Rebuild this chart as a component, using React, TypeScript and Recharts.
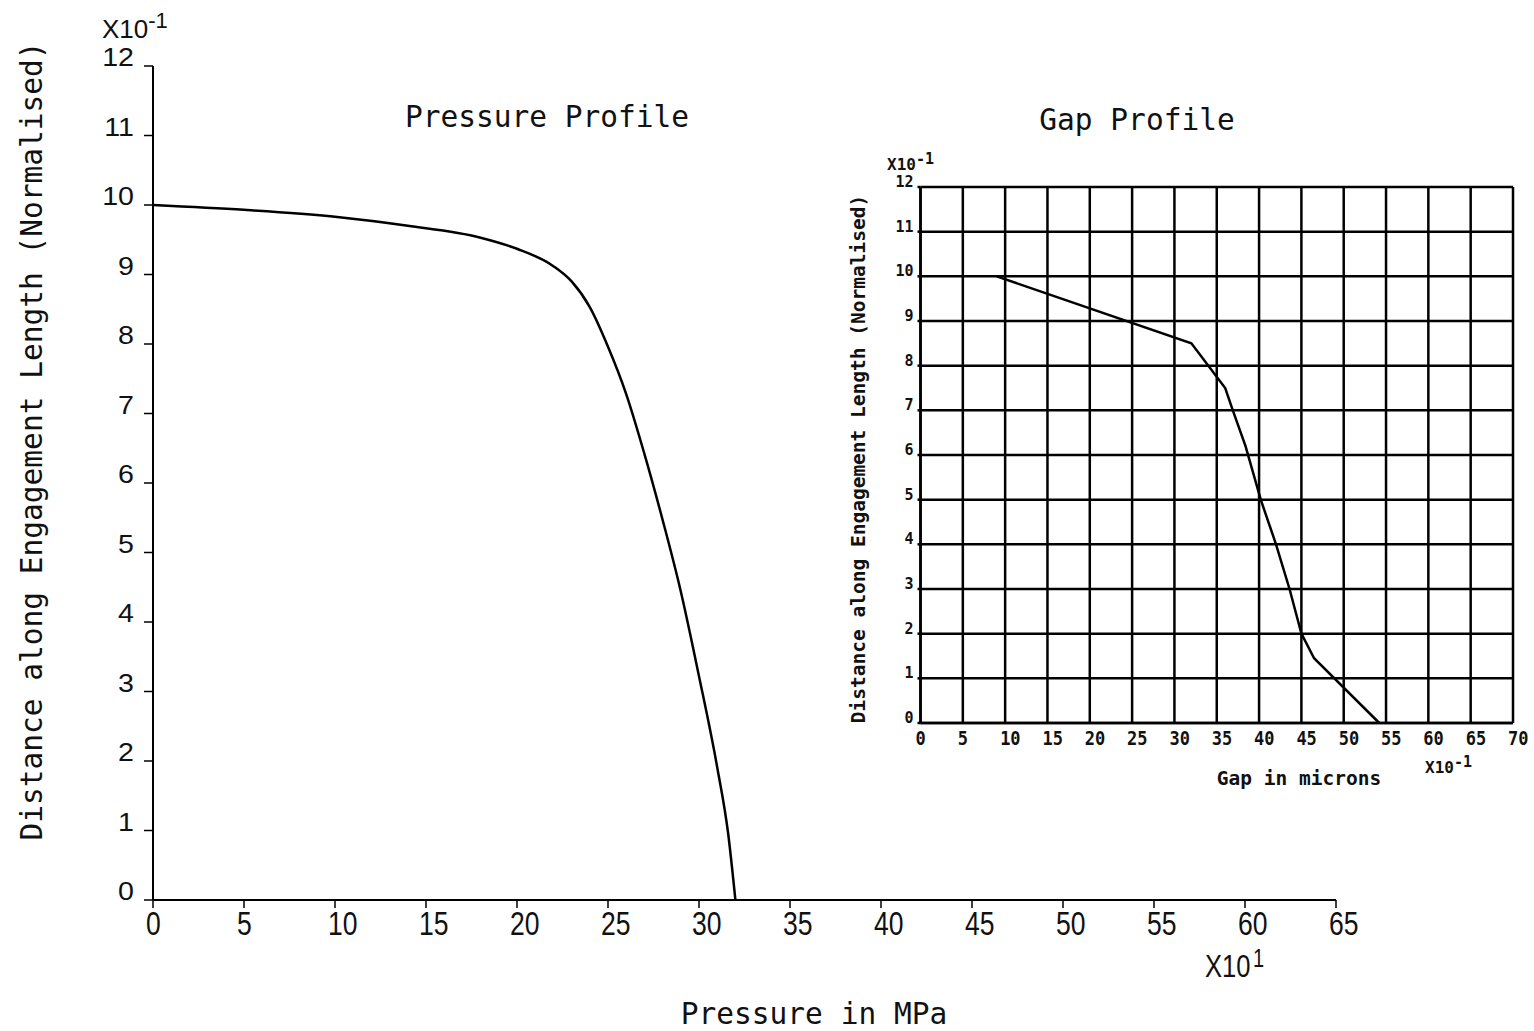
import React from 'react';
import { LineChart, Line, XAxis, YAxis, CartesianGrid } from 'recharts';

// Pressure profile (main chart): pressure x10^1 MPa vs normalised distance x10^-1
const PRESSURE_X = [0, 5, 10, 14, 18, 20, 22, 23, 24, 25, 26, 27, 28, 29, 30, 31, 31.6, 32];
const PRESSURE_Y = [10, 9.93, 9.83, 9.7, 9.53, 9.37, 9.12, 8.9, 8.53, 7.96, 7.28, 6.42, 5.47, 4.44, 3.22, 1.91, 0.96, 0];

// Gap profile (inset): gap x10^-1 microns vs normalised distance x10^-1
const GAP_X = [9, 32, 36, 36.9, 38.4, 40.2, 42, 43.6, 45, 46.5, 54.2];
const GAP_Y = [10, 8.5, 7.5, 7.0, 6.2, 5.0, 4.0, 3.0, 2.0, 1.45, 0];

const MAIN_X_TICKS = [0, 5, 10, 15, 20, 25, 30, 35, 40, 45, 50, 55, 60, 65];
const MAIN_Y_TICKS = [0, 1, 2, 3, 4, 5, 6, 7, 8, 9, 10, 11, 12];
const GAP_X_TICKS = [0, 5, 10, 15, 20, 25, 30, 35, 40, 45, 50, 55, 60, 65, 70];
const GAP_Y_TICKS = [0, 1, 2, 3, 4, 5, 6, 7, 8, 9, 10, 11, 12];

const pressureData = PRESSURE_X.map((x, i) => ({ x, y: PRESSURE_Y[i] }));
const gapData = GAP_X.map((x, i) => ({ x, y: GAP_Y[i] }));

const SANS = 'Liberation Sans, Arial, sans-serif';
const MONO = 'DejaVu Sans Mono, monospace';
const INK = '#111';

const MainYTick = (props: any) => {
  const { x, y, payload } = props;
  return (
    <text transform={`translate(${x},${y}) scale(1.1,1)`} x={0} y={0} textAnchor="end" fontFamily={SANS} fontSize={26} fill={INK}>
      {payload.value}
    </text>
  );
};

const MainXTick = (props: any) => {
  const { x, y, payload } = props;
  return (
    <text transform={`translate(${x - 7},${y + 25}) scale(0.78,1)`} x={0} y={0} textAnchor="start" fontFamily={SANS} fontSize={34} fill={INK}>
      {payload.value}
    </text>
  );
};

const GapYTick = (props: any) => {
  const { x, y, payload } = props;
  return (
    <text x={x} y={y} textAnchor="end" fontFamily={MONO} fontWeight="bold" fontSize={15} fill={INK}>
      {payload.value}
    </text>
  );
};

const GapXTick = (props: any) => {
  const { x, y, payload } = props;
  return (
    <text transform={`translate(${x - 5},${y + 15}) scale(0.85,1)`} x={0} y={0} textAnchor="start" fontFamily={MONO} fontWeight="bold" fontSize={20} fill={INK}>
      {payload.value}
    </text>
  );
};

export default function App() {
  return (
    <div style={{ position: 'absolute', left: 0, top: 0, width: 1534, height: 1031, background: '#fff', overflow: 'hidden' }}>
      <div style={{ position: 'absolute', left: 0, top: 0 }}>
        <LineChart width={1534} height={1031} data={pressureData} margin={{ top: 66, right: 198, left: 93, bottom: 91 }}>
          <XAxis
            type="number"
            dataKey="x"
            domain={[0, 65]}
            ticks={MAIN_X_TICKS}
            interval={0}
            height={40}
            tickSize={8}
            tickMargin={2}
            axisLine={{ stroke: '#000', strokeWidth: 2 }}
            tickLine={{ stroke: '#000', strokeWidth: 1.5 }}
            tick={<MainXTick />}
            allowDataOverflow
          />
          <YAxis
            type="number"
            dataKey="y"
            domain={[0, 12]}
            ticks={MAIN_Y_TICKS}
            interval={0}
            width={60}
            tickSize={9}
            tickMargin={10}
            axisLine={{ stroke: '#000', strokeWidth: 2 }}
            tickLine={{ stroke: '#000', strokeWidth: 1.5 }}
            tick={<MainYTick />}
            allowDataOverflow
          />
          <Line type="monotone" dataKey="y" stroke="#000" strokeWidth={2.5} dot={false} isAnimationActive={false} />
        </LineChart>
      </div>

      <div style={{ position: 'absolute', left: 840, top: 140 }}>
        <LineChart width={694} height={660} data={gapData} margin={{ top: 47, right: 21, left: 30.5, bottom: 37 }}>
          <CartesianGrid stroke="#000" strokeWidth={2.5} />
          <XAxis
            type="number"
            dataKey="x"
            domain={[0, 70]}
            ticks={GAP_X_TICKS}
            interval={0}
            height={40}
            tickSize={0}
            tickMargin={7}
            tickLine={false}
            axisLine={{ stroke: '#000', strokeWidth: 2.5 }}
            tick={<GapXTick />}
          />
          <YAxis
            type="number"
            dataKey="y"
            domain={[0, 12]}
            ticks={GAP_Y_TICKS}
            interval={0}
            width={50}
            tickSize={3}
            tickMargin={4}
            axisLine={{ stroke: '#000', strokeWidth: 2.5 }}
            tickLine={{ stroke: '#000', strokeWidth: 2.5 }}
            tick={<GapYTick />}
          />
          <Line type="linear" dataKey="y" stroke="#000" strokeWidth={2.5} dot={false} isAnimationActive={false} />
        </LineChart>
      </div>

      <svg width={1534} height={1031} style={{ position: 'absolute', left: 0, top: 0, pointerEvents: 'none' }}>
        {/* Main chart texts */}
        <text x={32} y={441} transform="rotate(-90 32 441)" textAnchor="middle" dominantBaseline="central" fontFamily={MONO} fontSize={29.5} fill={INK}>
          Distance along Engagement Length (Normalised)
        </text>
        <text x={814} y={1024} textAnchor="middle" fontFamily={MONO} fontSize={29.5} fill={INK}>
          Pressure in MPa
        </text>
        <text x={547} y={127} textAnchor="middle" fontFamily={MONO} fontSize={29.5} fill={INK}>
          Pressure Profile
        </text>
        <text x={1137} y={130} textAnchor="middle" fontFamily={MONO} fontSize={29.5} fill={INK}>
          Gap Profile
        </text>
        <text x={102} y={38} fontFamily={SANS} fontSize={26} fill={INK}>
          X10<tspan dy={-10} fontSize={22}>-1</tspan>
        </text>
        <text transform="translate(1205,977) scale(0.8,1)" x={0} y={0} fontFamily={SANS} fontSize={32} fill={INK}>
          X10<tspan dx={3} dy={-10} fontSize={25}>1</tspan>
        </text>

        {/* Inset texts */}
        <text x={887} y={170} fontFamily={MONO} fontWeight="bold" fontSize={16} fill={INK}>
          X10<tspan dy={-6} fontSize={15}>-1</tspan>
        </text>
        <text x={1425} y={773} fontFamily={MONO} fontWeight="bold" fontSize={16} fill={INK}>
          X10<tspan dy={-6} fontSize={15}>-1</tspan>
        </text>
        <text x={1299} y={785} textAnchor="middle" fontFamily={MONO} fontWeight="bold" fontSize={19.5} fill={INK}>
          Gap in microns
        </text>
        <text x={858} y={459} transform="rotate(-90 858 459)" textAnchor="middle" dominantBaseline="central" fontFamily={MONO} fontWeight="bold" fontSize={19.5} fill={INK}>
          Distance along Engagement Length (Normalised)
        </text>
      </svg>
    </div>
  );
}
